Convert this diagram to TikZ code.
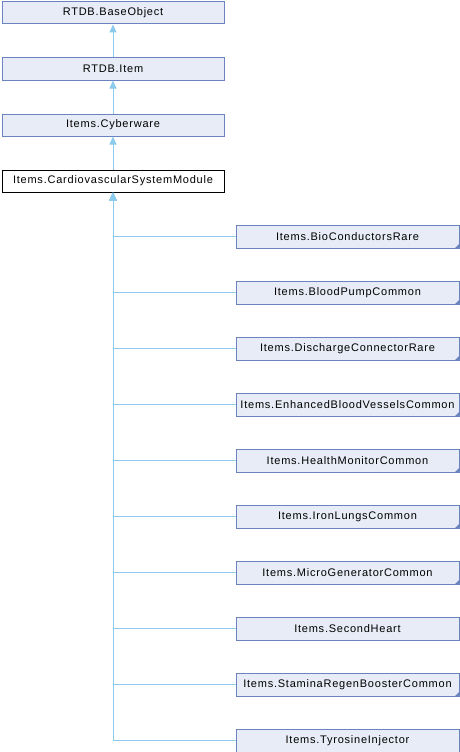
\documentclass[tikz,border=0pt]{standalone}
\usepackage{fontspec}
\setmainfont{Liberation Sans}[LetterSpace=7]
\usetikzlibrary{arrows.meta}
\definecolor{boxfill}{HTML}{E8ECF6}
\definecolor{boxline}{HTML}{6B84C0}
\definecolor{edgecol}{HTML}{8CCBEB}
\tikzset{
  cls/.style={draw=boxline, fill=boxfill, line width=1pt, minimum height=22pt, inner sep=0pt, anchor=north west, font=\fontsize{11}{13}\selectfont},
  cur/.style={cls, draw=black, fill=white},
  edge/.style={draw=edgecol, line width=1pt, -{Triangle[length=8pt,width=7pt,fill=edgecol]}},
  fold/.style={fill=boxline}
}
\begin{document}
\begin{tikzpicture}[x=1pt,y=-1pt]
\useasboundingbox (0,0) rectangle (460,752);
\node[cls, minimum width=222pt] (base) at (1.5,1.5) {RTDB.BaseObject};
\node[cls, minimum width=222pt] (item) at (1.5,57.5) {RTDB.Item};
\node[cls, minimum width=222pt] (cyber) at (1.5,113.5) {Items.Cyberware};
\node[cur, minimum width=222pt] (cardio) at (1.5,169.5) {Items.CardiovascularSystemModule};
\draw[edge] (item) -- (base);
\draw[edge] (cyber) -- (item);
\draw[edge] (cardio) -- (cyber);
\foreach \n/\t/\y/\f in {c1/Items.BioConductorsRare/224/1,
  c2/Items.BloodPumpCommon/280/1,
  c3/Items.DischargeConnectorRare/336/1,
  c4/Items.EnhancedBloodVesselsCommon/392/1,
  c5/Items.HealthMonitorCommon/448/1,
  c6/Items.IronLungsCommon/504/1,
  c7/Items.MicroGeneratorCommon/560/1,
  c8/Items.SecondHeart/616/0,
  c9/Items.StaminaRegenBoosterCommon/672/1,
  c10/Items.TyrosineInjector/728/0}{
  \node[cls, minimum width=223pt, minimum height=23pt] (\n) at (235.5,\y.5) {\t};
  \ifnum\f=1
    \fill[fold] (\n.south east) -- ([xshift=-5pt]\n.south east) -- ([yshift=5pt]\n.south east) -- cycle;
  \fi
  \draw[edge] (\n.west) -| (cardio.south);
}
\end{tikzpicture}
\end{document}
